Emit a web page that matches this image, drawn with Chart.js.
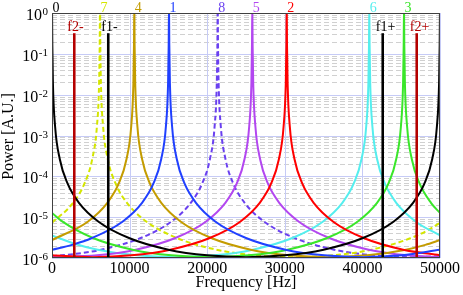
<!DOCTYPE html>
<html>
<head>
<meta charset="utf-8">
<script src="https://cdn.jsdelivr.net/npm/chart.js@4"></script>
<style>
  html, body { margin: 0; padding: 0; background: #fff; }
</style>
</head>
<body>
<canvas id="chartPower" width="463" height="295"></canvas>
<script>
// spectra: [frequency Hz, power A.U.]
const mode0 = [[0,1.5],[40,0.166],[120,0.0185],[400,1.66e-3],[1000,2.66e-4],[2000,6.69e-5],[3500,2.21e-5],[6000,7.75e-6],[10000,3.04e-6],[15000,1.60e-6],[20000,1.16e-6],[25000,1.05e-6],[30000,1.16e-6],[35000,1.60e-6],[40000,3.04e-6],[44000,7.75e-6],[46500,2.21e-5],[48000,6.69e-5],[49000,2.66e-4],[49600,1.66e-3],[49880,0.0185],[49960,0.166],[50000,1.5]];
const mode1 = [[0,1.59e-6],[2577,2.10e-6],[5077,3.04e-6],[9077,7.75e-6],[11577,2.21e-5],[13077,6.69e-5],[14077,2.66e-4],[14677,1.66e-3],[14957,0.0185],[15037,0.166],[15077,1.5],[15117,0.166],[15197,0.0185],[15477,1.66e-3],[16077,2.66e-4],[17077,6.69e-5],[18577,2.21e-5],[21077,7.75e-6],[25077,3.04e-6],[30077,1.60e-6],[35077,1.16e-6],[40077,1.05e-6],[45077,1.16e-6],[50000,1.59e-6]];
const mode2 = [[0,1.17e-6],[5245,1.05e-6],[10245,1.16e-6],[15245,1.60e-6],[20245,3.04e-6],[24245,7.75e-6],[26745,2.21e-5],[28245,6.69e-5],[29245,2.66e-4],[29845,1.66e-3],[30125,0.0185],[30205,0.166],[30245,1.5],[30285,0.166],[30365,0.0185],[30645,1.66e-3],[31245,2.66e-4],[32245,6.69e-5],[33745,2.21e-5],[36245,7.75e-6],[40245,3.04e-6],[45245,1.60e-6],[50000,1.17e-6]];
const mode3 = [[0,1.27e-5],[1361,7.75e-6],[5361,3.04e-6],[10361,1.60e-6],[15361,1.16e-6],[20361,1.05e-6],[25361,1.16e-6],[30361,1.60e-6],[35361,3.04e-6],[39361,7.75e-6],[41861,2.21e-5],[43361,6.69e-5],[44361,2.66e-4],[44961,1.66e-3],[45241,0.0185],[45321,0.166],[45361,1.5],[45401,0.166],[45481,0.0185],[45761,1.66e-3],[46361,2.66e-4],[47361,6.69e-5],[48861,2.21e-5],[50000,1.27e-5]];
const mode4 = [[0,2.75e-6],[4606,7.75e-6],[7106,2.21e-5],[8606,6.69e-5],[9606,2.66e-4],[10206,1.66e-3],[10486,0.0185],[10566,0.166],[10606,1.5],[10646,0.166],[10726,0.0185],[11006,1.66e-3],[11606,2.66e-4],[12606,6.69e-5],[14106,2.21e-5],[16606,7.75e-6],[20606,3.04e-6],[25606,1.60e-6],[30606,1.16e-6],[35606,1.05e-6],[40606,1.16e-6],[45606,1.60e-6],[48106,2.10e-6],[50000,2.75e-6]];
const mode5 = [[0,1.05e-6],[5812,1.16e-6],[10812,1.60e-6],[15812,3.04e-6],[19812,7.75e-6],[22312,2.21e-5],[23812,6.69e-5],[24812,2.66e-4],[25412,1.66e-3],[25692,0.0185],[25772,0.166],[25812,1.5],[25852,0.166],[25932,0.0185],[26212,1.66e-3],[26812,2.66e-4],[27812,6.69e-5],[29312,2.21e-5],[31812,7.75e-6],[35812,3.04e-6],[40812,1.60e-6],[45812,1.16e-6],[50000,1.05e-6]];
const mode6 = [[0,3.58e-6],[2889,2.24e-6],[5889,1.60e-6],[10889,1.16e-6],[15889,1.05e-6],[20889,1.16e-6],[25889,1.60e-6],[30889,3.04e-6],[34889,7.75e-6],[37389,2.21e-5],[38889,6.69e-5],[39889,2.66e-4],[40489,1.66e-3],[40769,0.0185],[40849,0.166],[40889,1.5],[40929,0.166],[41009,0.0185],[41289,1.66e-3],[41889,2.66e-4],[42889,6.69e-5],[44389,2.21e-5],[46889,7.75e-6],[50000,3.58e-6]];
const mode7 = [[0,7.31e-6],[2686,2.21e-5],[4186,6.69e-5],[5186,2.66e-4],[5786,1.66e-3],[6066,0.0185],[6146,0.166],[6186,1.5],[6226,0.166],[6306,0.0185],[6586,1.66e-3],[7186,2.66e-4],[8186,6.69e-5],[9686,2.21e-5],[12186,7.75e-6],[16186,3.04e-6],[21186,1.60e-6],[26186,1.16e-6],[31186,1.05e-6],[36186,1.16e-6],[41186,1.60e-6],[46186,3.04e-6],[48686,5.09e-6],[50000,7.31e-6]];
const mode8 = [[0,1.11e-6],[3853,1.32e-6],[6353,1.60e-6],[11353,3.04e-6],[15353,7.75e-6],[17853,2.21e-5],[19353,6.69e-5],[20353,2.66e-4],[20953,1.66e-3],[21233,0.0185],[21313,0.166],[21353,1.5],[21393,0.166],[21473,0.0185],[21753,1.66e-3],[22353,2.66e-4],[23353,6.69e-5],[24853,2.21e-5],[27353,7.75e-6],[31353,3.04e-6],[36353,1.60e-6],[41353,1.16e-6],[46353,1.05e-6],[50000,1.11e-6]];

const modes = [mode0, mode1, mode2, mode3, mode4, mode5, mode6, mode7, mode8];
const modeNames = ["0", "1", "2", "3", "4", "5", "6", "7", "8"];
const modePeaks = [0, 15077, 30245, 45361, 10606, 25812, 40889, 6186, 21353];

// sideband markers
const sideNames = ["f2-", "f1-", "f1+", "f2+"];
const sideFreqs = [2870, 7250, 42620, 47000];
const sideTop = 0.32;

const xTicks = [0, 10000, 20000, 30000, 40000, 50000];
const yExponents = [-6, -5, -4, -3, -2, -1, 0];

// styles
const modeColors = ["#000000", "#2040ff", "#ff0000", "#3ae62a", "#c49c00", "#b347f0", "#55eeee", "#d4e600", "#6a40f0"];
const modeDashed = [false, false, false, false, false, false, false, true, true];
const sideColors = ["#b40000", "#000000", "#000000", "#b40000"];
const serif = '"Liberation Serif", "DejaVu Serif", serif';

const datasets = [];
sideFreqs.forEach((f, i) => {
  datasets.push({
    data: [{ x: f, y: 1e-6 }, { x: f, y: sideTop }],
    borderColor: sideColors[i],
    borderWidth: 2.6,
    pointRadius: 0,
    clip: 0
  });
});
modes.forEach((m, i) => {
  datasets.push({
    data: m.map(p => ({ x: p[0], y: p[1] })),
    borderColor: modeColors[i],
    borderWidth: 2,
    borderDash: modeDashed[i] ? [5, 3] : [],
    pointRadius: 0,
    cubicInterpolationMode: "monotone",
    clip: 0
  });
});

const paper = {
  id: "paper",
  beforeDatasetsDraw(chart) {
    const { ctx, chartArea: a, scales: { x, y } } = chart;
    ctx.save();
    ctx.lineWidth = 1;
    ctx.strokeStyle = "#d0d0d0";
    ctx.setLineDash([5, 3]);
    yExponents.slice(0, -1).forEach(e => {
      for (let m = 2; m <= 9; m++) {
        const py = Math.round(y.getPixelForValue(m * Math.pow(10, e))) + 0.5;
        ctx.beginPath(); ctx.moveTo(a.left, py); ctx.lineTo(a.right, py); ctx.stroke();
      }
    });
    ctx.setLineDash([]);
    ctx.strokeStyle = "#c6cbf6";
    yExponents.forEach(e => {
      const py = Math.round(y.getPixelForValue(Math.pow(10, e))) + 0.5;
      ctx.beginPath(); ctx.moveTo(a.left, py); ctx.lineTo(a.right, py); ctx.stroke();
    });
    xTicks.forEach(v => {
      const px = Math.round(x.getPixelForValue(v)) + 0.5;
      ctx.beginPath(); ctx.moveTo(px, a.top); ctx.lineTo(px, a.bottom); ctx.stroke();
    });
    ctx.restore();
  },
  afterDraw(chart) {
    const { ctx, chartArea: a, scales: { x, y } } = chart;
    ctx.save();
    ctx.strokeStyle = "#404040";
    ctx.lineWidth = 1;
    ctx.strokeRect(a.left + 0.5, a.top + 0.5, a.right - a.left - 1, a.bottom - a.top - 1);

    ctx.fillStyle = "#000";
    ctx.textBaseline = "alphabetic";
    // x ticks
    ctx.font = "16px " + serif;
    ctx.textAlign = "center";
    xTicks.forEach(v => ctx.fillText(String(v), x.getPixelForValue(v), a.bottom + 15));
    ctx.fillText("Frequency [Hz]", (a.left + a.right) / 2, a.bottom + 29);

    // y ticks 10^e
    ctx.textAlign = "right";
    yExponents.forEach(e => {
      const py = y.getPixelForValue(Math.pow(10, e));
      ctx.font = "11px " + serif;
      const sup = String(e);
      const sw = ctx.measureText(sup).width;
      ctx.fillText(sup, a.left - 4, py + 2);
      ctx.font = "16px " + serif;
      ctx.fillText("10", a.left - 4 - sw - 0.5, py + 7);
    });

    ctx.save();
    ctx.translate(12.5, (a.top + a.bottom) / 2 + 1);
    ctx.rotate(-Math.PI / 2);
    ctx.textAlign = "center";
    ctx.font = "16px " + serif;
    ctx.fillText("Power [A.U.]", 0, 0);
    ctx.restore();

    // mode numbers above the peaks
    ctx.font = "14px " + serif;
    ctx.textAlign = "left";
    modePeaks.forEach((f, i) => {
      ctx.fillStyle = modeColors[i];
      ctx.fillText(modeNames[i], x.getPixelForValue(f) + 0.5, a.top - 1);
    });
    // sideband names
    sideFreqs.forEach((f, i) => {
      ctx.fillStyle = sideColors[i];
      ctx.fillText(sideNames[i], x.getPixelForValue(f) - 7, a.top + 17.5);
    });
    ctx.restore();
  }
};

new Chart(document.getElementById("chartPower"), {
  type: "line",
  data: { datasets },
  options: {
    responsive: false,
    animation: false,
    devicePixelRatio: 1,
    layout: { padding: { left: 52, right: 23, top: 13, bottom: 37 } },
    plugins: { legend: { display: false }, tooltip: { enabled: false } },
    scales: {
      x: { type: "linear", min: 0, max: 50000, display: false },
      y: { type: "logarithmic", min: 1e-6, max: 1, display: false }
    }
  },
  plugins: [paper]
});
</script>
</body>
</html>
